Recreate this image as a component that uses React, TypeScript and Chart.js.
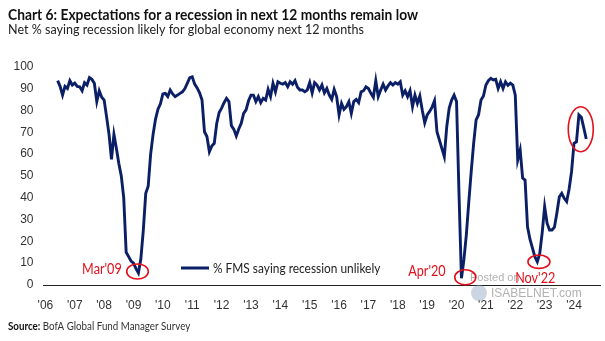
import React, { useEffect, useRef } from "react";
import { Chart, registerables } from "chart.js";

Chart.register(...registerables);

// ---------------- DATA ----------------
const START_YEAR = 2006;
const START_MONTH = 6; // June 2006

const v2006 = [93.6, 91, 87, 91, 90, 93.6, 91.6];
const v2007 = [92.5, 91, 90.8, 89, 92.7, 91.6, 95, 94.2, 92.4, 84, 89, 86];
const v2008 = [84.7, 77, 69, 57.6, 69, 62.6, 55.7, 50, 40, 15, 13, 11];
const v2009 = [10, 7.5, 5.5, 12, 25, 42, 45.3, 60, 69, 76, 80.5, 83];
const v2010 = [87.5, 87.8, 86.3, 89.3, 87.5, 86.3, 87, 87.8, 88.5, 90, 92.5, 95];
const v2011 = [95.4, 92, 90.3, 88, 84.7, 70.2, 68, 61, 63.7, 64.9, 74, 79];
const v2012 = [81, 83.5, 85.5, 84, 73, 71.3, 68.3, 71.5, 74, 78.6, 80.2, 84.4];
const v2013 = [87, 87, 84, 86.3, 83.5, 85.5, 84.7, 89.6, 86.3, 92.4, 88.5, 93.1];
const v2014 = [92.4, 92, 92.7, 90.8, 93.1, 92, 93.6, 90.6, 89.3, 89.3, 88.5, 89.3];
const v2015 = [92.7, 88, 92.7, 91.6, 89.3, 91.6, 88, 90, 87, 85, 89.6, 86.3];
const v2016 = [77.9, 83.2, 80.5, 81.7, 84, 78.6, 84, 85, 83.5, 88.5, 89, 90.8];
const v2017 = [90, 87.8, 86, 93.6, 86.3, 89.3, 92, 89.3, 91.2, 92.7, 91.6, 92.7];
const v2018 = [92, 93.1, 87, 89, 86.3, 89, 81.7, 87, 83.2, 86.6, 80, 74.3];
const v2019 = [77.9, 79.5, 81.5, 84.4, 70.2, 66.4, 62.6, 58.8, 72.5, 81, 84.7, 87];
const v2020 = [84, 42, 3.1, 11.5, 23, 38, 52, 65, 75.6, 78, 84.7, 86.6];
const v2021 = [91.6, 93.6, 94.7, 93.9, 94.2, 90, 93.1, 90, 93.1, 91.5, 92.5, 91.6];
const v2022 = [87, 57.3, 61.8, 49, 48.1, 26.7, 21, 17, 13, 10.7, 14.5, 24];
const v2023 = [35.9, 28.3, 25.2, 25.2, 26.5, 33, 40.4, 42, 39.7, 38.2, 44, 52];
const v2024 = [64.9, 65.6, 77.9, 76.8, 72, 66.9];

const values = [
  ...v2006, ...v2007, ...v2008, ...v2009, ...v2010, ...v2011, ...v2012,
  ...v2013, ...v2014, ...v2015, ...v2016, ...v2017, ...v2018, ...v2019,
  ...v2020, ...v2021, ...v2022, ...v2023, ...v2024,
];

const yearTicks = [2006, 2007, 2008, 2009, 2010, 2011, 2012, 2013, 2014, 2015, 2016, 2017, 2018, 2019, 2020, 2021, 2022, 2023, 2024];
const yTicks = [0, 10, 20, 30, 40, 50, 60, 70, 80, 90, 100];

const seriesLabel = "% FMS saying recession unlikely";
const titleText = "Chart 6: Expectations for a recession in next 12 months remain low";
const subtitleText = "Net % saying recession likely for global economy next 12 months";
const sourceBold = "Source:";
const sourceText = " BofA Global Fund Manager Survey";

// annotation circles (data space) and labels
const noteLabels = ["Mar'09", "Apr'20", "Nov'22"];
const noteX = [2009.136, 2020.297, 2022.806];
const noteY = [6.18, 3.53, 10.67];
const highlightX = 2024.23;
const highlightY = 71.37;

// ---------------- STYLE ----------------
const NAVY = "#0b1f66";
const RED = "#e3101b";
const FONT = "Lato, 'Liberation Sans', sans-serif";
const REGULAR = "'Liberation Sans', Arial, sans-serif";
const noteStyle = [
  { rx: 10.8, ry: 7.5, dx: -15.8, dy: -2.2, align: "right" as CanvasTextAlign },
  { rx: 10.5, ry: 7.5, dx: -19.6, dy: -5.6, align: "right" as CanvasTextAlign },
  { rx: 11, ry: 6.7, dx: -3.7, dy: 16.6, align: "center" as CanvasTextAlign },
];
const highlightR = { rx: 12.5, ry: 22.5 };

function drawText(
  ctx: CanvasRenderingContext2D,
  text: string,
  x: number,
  y: number,
  sx: number,
  align: CanvasTextAlign = "left"
) {
  ctx.save();
  ctx.translate(x, y);
  ctx.scale(sx, 1);
  ctx.textAlign = align;
  ctx.fillText(text, 0, 0);
  ctx.restore();
}

const overlayPlugin = {
  id: "overlay",
  beforeDatasetsDraw(chart: any) {
    const ctx = chart.ctx as CanvasRenderingContext2D;
    ctx.save();
    // watermark
    ctx.fillStyle = "rgba(150,150,150,0.75)";
    ctx.font = `11px ${REGULAR}`;
    ctx.textAlign = "left";
    ctx.textBaseline = "middle";
    ctx.fillText("Posted on", 470, 277.5);
    ctx.font = `12px ${REGULAR}`;
    ctx.fillText("ISABELNET.com", 491, 294);
    ctx.fillStyle = "rgba(140,165,190,0.45)";
    ctx.beginPath();
    ctx.arc(479, 293, 8, 0, Math.PI * 2);
    ctx.fill();
    ctx.restore();
  },
  afterDraw(chart: any) {
    const ctx = chart.ctx as CanvasRenderingContext2D;
    const xs = chart.scales.x;
    const ys = chart.scales.y;
    ctx.save();
    // titles
    ctx.textBaseline = "alphabetic";
    ctx.fillStyle = "#111";
    ctx.font = `bold 15px ${FONT}`;
    drawText(ctx, titleText, 8, 20, 0.92);
    ctx.fillStyle = "#222";
    ctx.font = `13.5px ${FONT}`;
    drawText(ctx, subtitleText, 8, 33.5, 0.93);
    // source
    ctx.fillStyle = "#111";
    ctx.font = `bold 11.5px ${FONT}`;
    drawText(ctx, sourceBold, 8, 330, 0.85);
    const w = ctx.measureText(sourceBold).width * 0.85;
    ctx.fillStyle = "#333";
    ctx.font = `11.5px ${FONT}`;
    drawText(ctx, sourceText, 8 + w, 330, 0.85);

    // legend
    ctx.strokeStyle = NAVY;
    ctx.lineWidth = 3;
    ctx.beginPath();
    ctx.moveTo(181, 268);
    ctx.lineTo(209, 268);
    ctx.stroke();
    ctx.fillStyle = "#222";
    ctx.font = `14px ${FONT}`;
    ctx.textBaseline = "middle";
    drawText(ctx, seriesLabel, 213, 268, 0.85);

    // annotations
    ctx.strokeStyle = RED;
    ctx.fillStyle = RED;
    ctx.lineWidth = 1.6;
    ctx.font = `14.5px ${FONT}`;
    noteLabels.forEach((lab, i) => {
      const cx = xs.getPixelForValue(noteX[i]);
      const cy = ys.getPixelForValue(noteY[i]);
      const st = noteStyle[i];
      ctx.beginPath();
      ctx.ellipse(cx, cy, st.rx, st.ry, 0, 0, Math.PI * 2);
      ctx.stroke();
      drawText(ctx, lab, cx + st.dx, cy + st.dy, 0.87, st.align);
    });
    const hx = xs.getPixelForValue(highlightX);
    const hy = ys.getPixelForValue(highlightY);
    ctx.beginPath();
    ctx.ellipse(hx, hy, highlightR.rx, highlightR.ry, 0, 0, Math.PI * 2);
    ctx.stroke();
    ctx.restore();
  },
};

export default function App() {
  const ref = useRef<HTMLCanvasElement | null>(null);
  useEffect(() => {
    if (!ref.current) return;
    const points = values.map((v, i) => ({ x: START_YEAR + (START_MONTH - 1 + i) / 12, y: v }));
    const tickFont = { family: REGULAR, size: 12 };
    const chart = new Chart(ref.current, {
      type: "line",
      data: {
        datasets: [
          {
            label: seriesLabel,
            data: points,
            borderColor: NAVY,
            backgroundColor: NAVY,
            borderWidth: 2.9,
            pointRadius: 0,
            tension: 0,
            fill: false,
          },
        ],
      },
      options: {
        animation: false,
        responsive: false,
        maintainAspectRatio: false,
        layout: { padding: { left: 0, right: 5, top: 66.7, bottom: 0 } },
        plugins: {
          legend: { display: false },
          tooltip: { enabled: false },
          title: { display: false },
        },
        scales: {
          x: {
            type: "linear",
            min: 2005.935,
            max: 2024.885,
            grid: { display: false, drawTicks: false },
            border: { display: true, color: "#222", width: 1 },
            ticks: {
              autoSkip: false,
              maxRotation: 0,
              padding: 13,
              color: "#333",
              font: tickFont,
              callback: (v: any) => "'" + String(v).slice(2),
            },
            afterBuildTicks: (s: any) => {
              s.ticks = yearTicks.map((v) => ({ value: v }));
            },
            afterFit: (s: any) => {
              s.height = 56;
            },
          },
          y: {
            min: 0,
            max: 100,
            grid: { display: false, drawTicks: false },
            border: { display: false },
            ticks: { padding: 10, color: "#333", font: tickFont },
            afterBuildTicks: (s: any) => {
              s.ticks = yTicks.map((v) => ({ value: v }));
            },
            afterFit: (s: any) => {
              s.width = 43.5;
            },
          },
        },
      },
      plugins: [overlayPlugin],
    } as any);
    return () => chart.destroy();
  }, []);
  return (
    <div style={{ position: "fixed", left: 0, top: 0, width: 605, height: 341, background: "#fff" }}>
      <canvas ref={ref} width={605} height={341} style={{ width: 605, height: 341, display: "block" }} />
    </div>
  );
}
